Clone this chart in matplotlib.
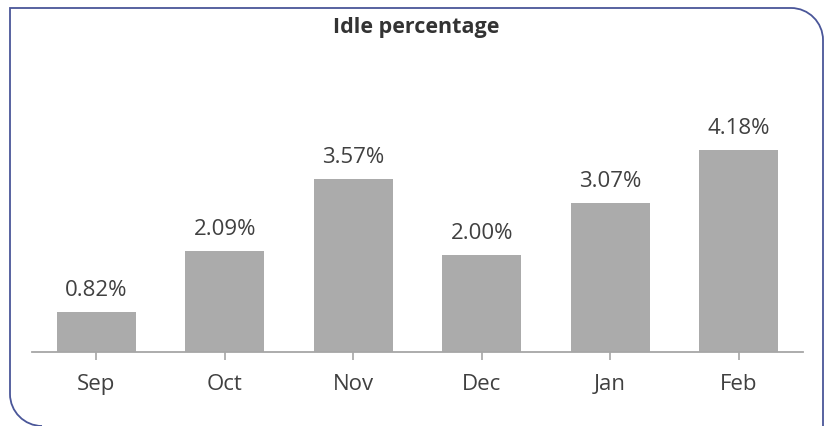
import matplotlib.pyplot as plt
from matplotlib.path import Path
from matplotlib.patches import PathPatch

months = ["Sep", "Oct", "Nov", "Dec", "Jan", "Feb"]
idle_pct = [0.82, 2.09, 3.57, 2.00, 3.07, 4.18]

W, H = 830, 426
plt.rcParams['font.family'] = ['Open Sans', 'DejaVu Sans']

fig = plt.figure(figsize=(W / 100, H / 100), dpi=100)

# axes placed in pixel terms (y measured from top)
left, right, top, bottom = 32, 803, 110, 352
ax = fig.add_axes([left / W, 1 - bottom / H, (right - left) / W, (bottom - top) / H])

x = range(len(months))
bars = ax.bar(x, idle_pct, width=0.615, color="#ababab")
for b, v in zip(bars, idle_pct):
    ax.annotate(f"{v:.2f}%", (b.get_x() + b.get_width() / 2, v),
                xytext=(0, 11.5), textcoords="offset points",
                ha="center", va="baseline", fontsize=16, color="#404040")

ax.set_xlim(-0.5, len(months) - 0.5)
ax.set_ylim(0, 5.0)
ax.set_xticks(list(x))
ax.set_xticklabels(months, fontsize=16, color="#404040")
ax.tick_params(axis="x", length=6, width=1.2, color="#a6a6a6", pad=9.5)
ax.set_yticks([])
for s in ["top", "right", "left"]:
    ax.spines[s].set_visible(False)
ax.spines["bottom"].set_color("#a6a6a6")
ax.spines["bottom"].set_linewidth(1.3)

fig.text(416 / W, 1 - 27 / H, "Idle percentage", ha="center", va="center",
         fontsize=15.5, fontweight="bold", color="#333333")

# frame: open path, rounded top-right and bottom-left, bottom edge off-canvas
r = 32
k = 0.55 * r
yb = 426
def P(px, py):
    return (px / W, 1 - py / H)
verts = [P(10 + r, yb), P(10 + r - k, yb), P(10, yb - r + k), P(10, yb - r),
         P(10, 8), P(823 - r, 8),
         P(823 - r + k, 8), P(823, 8 + r - k), P(823, 8 + r),
         P(823, yb)]
codes = [Path.MOVETO, Path.CURVE4, Path.CURVE4, Path.CURVE4,
         Path.LINETO, Path.LINETO,
         Path.CURVE4, Path.CURVE4, Path.CURVE4,
         Path.LINETO]
frame = PathPatch(Path(verts, codes), facecolor="none", edgecolor="#4a5699",
                  linewidth=1.3, transform=fig.transFigure)
fig.patches.append(frame)

fig.savefig("out.png", dpi=100)
